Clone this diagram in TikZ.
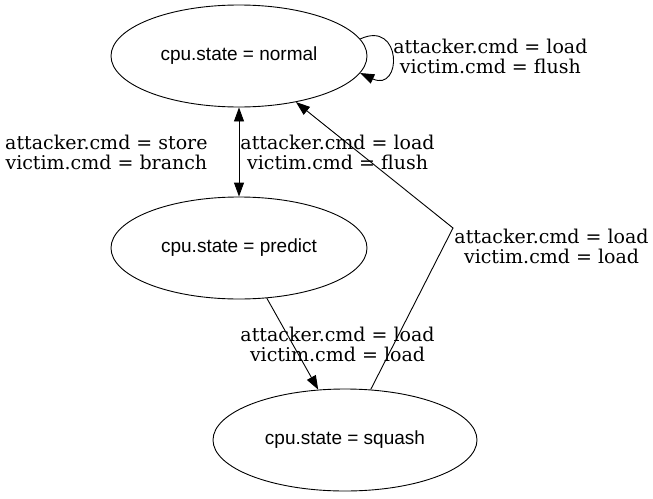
\documentclass[tikz,border=0pt]{standalone}
\usepackage{fontspec}
\newfontfamily\statefont{Liberation Sans}
\newfontfamily\condfont{DejaVu Serif}
\usetikzlibrary{shapes.geometric,arrows.meta}
\tikzset{
  state/.style={draw, ellipse, inner sep=0pt, minimum width=256pt, minimum height=102pt,
    font=\statefont\fontsize{19}{22}\selectfont},
  cond/.style={font=\condfont\fontsize{19}{20}\selectfont, align=center, inner sep=1pt},
}
\begin{document}
\begin{tikzpicture}[x=1pt, y=-1pt, line width=0.9pt, >={Triangle[length=14pt,width=10pt]}]
      \useasboundingbox (0,0) rectangle (653,498);
      \draw
        (239,56) node[state] (normal){cpu.state = normal}
        (239,248) node[state] (predict){cpu.state = predict}
        (345,440) node[state, minimum width=264pt] (squash){cpu.state = squash};
      \coordinate (bend) at (453,228);
      \begin{scope}[->]
        \draw (normal.8) to[out=25, in=-25, looseness=3.5]
          node[cond, right]{attacker.cmd = load\\victim.cmd = flush} (normal.-8);
        \draw[<->] (normal) to
          node[cond, left=30pt]{attacker.cmd = store\\victim.cmd = branch}
          node[cond, anchor=west]{attacker.cmd = load\\victim.cmd = flush} (predict);
        \draw (predict.-61) to
          node[cond, xshift=45pt]{attacker.cmd = load\\victim.cmd = load} (squash.118);
        \draw (squash.63) -- (bend)
          node[cond, anchor=north west]{attacker.cmd = load\\victim.cmd = load} -- (normal.-39);
      \end{scope}
    \end{tikzpicture}
\end{document}
